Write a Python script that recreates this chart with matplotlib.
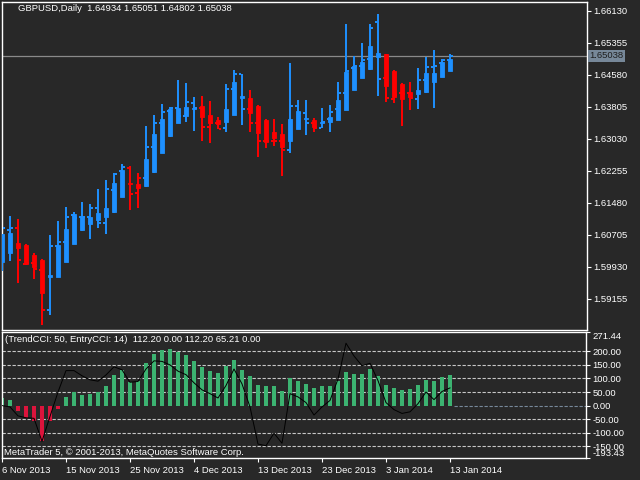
import numpy as np
import matplotlib
matplotlib.use('Agg')
import matplotlib.pyplot as plt

# GBPUSD daily, 57 bars (index 0 = 6 Nov 2013, last = 13 Jan 2014)
open_ = [1.60213, 1.60819, 1.60874, 1.59995, 1.60027, 1.59862, 1.58881, 1.60438, 1.60535, 1.61182,
         1.61126, 1.61126, 1.61359, 1.60981, 1.61787, 1.62255, 1.62332, 1.61707, 1.62085, 1.62836,
         1.63403, 1.63708, 1.63781, 1.63580, 1.63902, 1.63766, 1.63320, 1.63422, 1.63282, 1.64234,
         1.64590, 1.63756, 1.63403, 1.62981, 1.62981, 1.62981, 1.62756, 1.63829, 1.63660, 1.63403,
         1.63296, 1.63500, 1.63742, 1.64144, 1.64749, 1.64798, 1.64953, 1.65863, 1.64507, 1.63984,
         1.64129, 1.64144, 1.63991, 1.64452, 1.64774, 1.64856, 1.64934]
close_ = [1.60860, 1.60874, 1.60092, 1.60027, 1.59867, 1.58881, 1.60438, 1.60535, 1.61141, 1.61102,
          1.61126, 1.61359, 1.60981, 1.61804, 1.62168, 1.62337, 1.61691, 1.62085, 1.62836, 1.63403,
          1.63684, 1.63781, 1.63580, 1.63911, 1.63766, 1.63320, 1.63417, 1.63277, 1.64234, 1.64590,
          1.63756, 1.63403, 1.62981, 1.62981, 1.62981, 1.62756, 1.63829, 1.63660, 1.63417, 1.63296,
          1.63427, 1.63684, 1.64144, 1.64677, 1.64798, 1.64936, 1.65718, 1.64476, 1.64023, 1.64088,
          1.64112, 1.64008, 1.64452, 1.64774, 1.64798, 1.64936, 1.65038]
wick_hi = [1.60722, 1.61158, 1.61085, 1.60480, 1.60262, 1.60109, 1.60698, 1.61037, 1.61383, 1.61262,
           1.61504, 1.61448, 1.61812, 1.62030, 1.62206, 1.62417, 1.62369, 1.62199, 1.63337, 1.63604,
           1.63870, 1.63805, 1.64452, 1.64386, 1.64052, 1.64064, 1.63943, 1.63548, 1.64355, 1.64694,
           1.64590, 1.64209, 1.63839, 1.63507, 1.63507, 1.63386, 1.64871, 1.63967, 1.63967, 1.63538,
           1.63781, 1.63846, 1.64410, 1.65808, 1.65033, 1.65355, 1.65808, 1.66050, 1.65081, 1.64694,
           1.64372, 1.64410, 1.64735, 1.65001, 1.65178, 1.64953, 1.65081]
wick_lo = [1.59826, 1.60068, 1.59542, 1.59971, 1.59644, 1.58518, 1.58760, 1.59680, 1.60051, 1.60472,
           1.60802, 1.60593, 1.60860, 1.60715, 1.61238, 1.61611, 1.61315, 1.61359, 1.61867, 1.62206,
           1.62676, 1.63078, 1.63403, 1.63442, 1.63224, 1.62981, 1.62918, 1.63257, 1.63199, 1.63604,
           1.63362, 1.63199, 1.62594, 1.62812, 1.62860, 1.62134, 1.62691, 1.63257, 1.63119, 1.63199,
           1.63282, 1.63199, 1.63483, 1.63725, 1.64209, 1.64493, 1.64694, 1.64071, 1.63926, 1.63902,
           1.63337, 1.63725, 1.63749, 1.64144, 1.63781, 1.64517, 1.64677]
body_hi = [1.60722, 1.60739, 1.60497, 1.60455, 1.60213, 1.60092, 1.59717, 1.60455, 1.60836, 1.61206,
           1.61133, 1.61126, 1.61238, 1.61344, 1.61964, 1.62272, 1.61964, 1.61933, 1.62538, 1.63144,
           1.63500, 1.63742, 1.63781, 1.63805, 1.63785, 1.63822, 1.63604, 1.63488, 1.63742, 1.64410,
           1.64064, 1.64023, 1.63822, 1.63483, 1.63199, 1.63144, 1.63514, 1.63701, 1.63543, 1.63483,
           1.63446, 1.63548, 1.63967, 1.64653, 1.64803, 1.64895, 1.65275, 1.65098, 1.65081, 1.64677,
           1.64355, 1.64168, 1.64209, 1.64628, 1.64628, 1.64895, 1.64953]
body_lo = [1.60044, 1.60269, 1.60390, 1.59988, 1.59930, 1.59300, 1.59680, 1.59688, 1.60051, 1.60472,
           1.60807, 1.60964, 1.61061, 1.61141, 1.61255, 1.61611, 1.61925, 1.61843, 1.61884, 1.62223,
           1.62691, 1.63095, 1.63417, 1.63580, 1.63749, 1.63548, 1.63403, 1.63398, 1.63442, 1.63604,
           1.64028, 1.63645, 1.63161, 1.62943, 1.63054, 1.62821, 1.62981, 1.63257, 1.63507, 1.63320,
           1.63410, 1.63442, 1.63483, 1.63725, 1.64209, 1.64493, 1.64711, 1.65016, 1.64313, 1.64047,
           1.63991, 1.64047, 1.64112, 1.64154, 1.64410, 1.64517, 1.64677]
trend = ['up', 'up', 'dn', 'dn', 'dn', 'dn', 'up', 'up', 'up', 'up',
         'up', 'up', 'up', 'up', 'up', 'up', 'dn', 'dn', 'up', 'up',
         'up', 'up', 'up', 'up', 'up', 'dn', 'dn', 'dn', 'up', 'up',
         'up', 'dn', 'dn', 'dn', 'dn', 'dn', 'up', 'up', 'up', 'dn',
         'up', 'up', 'up', 'up', 'up', 'up', 'up', 'up', 'dn', 'dn',
         'dn', 'dn', 'up', 'up', 'up', 'up', 'up']

# TrendCCI(50) histogram and EntryCCI(14) line
trend_cci = [29, 19, -21, -45, -57, -132, -57, -13, 33, 50, 40, 41, 50, 74, 114, 131, 86, 90, 156, 190,
             204, 208, 198, 188, 163, 141, 126, 120, 147, 168, 131, 110, 77, 72, 72, 52, 101, 90, 80, 66,
             72, 72, 90, 125, 117, 117, 135, 108, 77, 66, 58, 62, 77, 95, 89, 105, 112.20]
entry_cci = [0, -5, -38, -45, -47, -132, -40, 50, 129, 129, 110, 95, 90, 113, 143, 132, 86, 89, 135, 165,
             163, 150, 127, 114, 84, 58, 44, 28, 74, 135, 80, -5, -142, -148, -102, -139, 44, 32, 11, -35,
             -5, 19, 98, 230, 183, 147, 156, 92, 11, -15, -29, -23, 7, 50, 22, 52, 65.21]

date_pos = [0, 8, 16, 24, 32, 40, 48, 56]
date_labels = ['6 Nov 2013', '15 Nov 2013', '25 Nov 2013', '4 Dec 2013',
               '13 Dec 2013', '23 Dec 2013', '3 Jan 2014', '13 Jan 2014']
price_ticks = [1.66130, 1.65355, 1.64580, 1.63805, 1.63030, 1.62255, 1.61480, 1.60705, 1.59930, 1.59155]
cci_ticks = [271.44, 200, 150, 100, 50, 0, -50, -100, -150, -193.43]
last_price = 1.65038

bg = '#282828'
fg = 'white'
plt.rcParams['font.family'] = ['Liberation Sans', 'DejaVu Sans']
fs = 6.8

fig = plt.figure(figsize=(6.4, 4.8), dpi=100, facecolor=bg)
ax = fig.add_axes([2 / 640, 1 - 330 / 480, 585 / 640, 328 / 480], facecolor=bg)
ax2 = fig.add_axes([2 / 640, 1 - 458 / 480, 584 / 640, 126 / 480], facecolor=bg)

x = np.arange(len(close_))
cols = np.where(np.array(trend) == 'up', '#1E90FF', '#FF0000')

# candles
ax.vlines(x, wick_lo, wick_hi, colors=cols, lw=1.4, zorder=3)
ax.bar(x, np.array(body_hi) - np.array(body_lo), bottom=body_lo, width=0.5,
       color=cols, edgecolor=cols, lw=0.6, zorder=3)
ax.hlines(open_, x - 0.4, x - 0.1, colors=cols, lw=1.4, zorder=3)
ax.hlines(close_, x + 0.1, x + 0.4, colors=cols, lw=1.4, zorder=3)
ax.axhline(last_price, color='#8a8a8a', lw=0.9, zorder=2)

ax.set_xlim(0, 73.125)
ax.set_ylim(1.58397, 1.66341)
ax.set_xticks([])
ax.yaxis.tick_right()
ax.set_yticks(price_ticks)
ax.set_yticklabels(['%.5f' % v for v in price_ticks])
ax.tick_params(axis='y', colors=fg, labelsize=fs, direction='out', length=3, width=0.8, pad=1.5)
for s in ax.spines.values():
    s.set_color(fg)
    s.set_linewidth(1.0)
ax.text(1.004, last_price, '%.5f' % last_price, transform=ax.get_yaxis_transform(),
        ha='left', va='center', fontsize=fs, color='#1e1e1e',
        bbox=dict(boxstyle='square,pad=0.18', fc='#778899', ec='none'))

fig.text(18 / 640, 1 - 4 / 480, 'GBPUSD,Daily  1.64934 1.65051 1.64802 1.65038',
         color=fg, fontsize=fs, va='top', ha='left')

# indicator
hcols = ['#3CB371' if v >= 0 else '#DC143C' for v in trend_cci]
for lev in [200, 150, 100, 50, -50, -100, -150]:
    ax2.axhline(lev, color='#c8c8c8', lw=0.8, ls=(0, (3, 1.5)), zorder=1)
ax2.hlines(0, len(x) - 0.5, 73.0, color='#778899', lw=0.8, ls=(0, (3, 1.5)), zorder=1)
ax2.bar(x, trend_cci, width=0.5, color=hcols, zorder=2)
ax2.plot(x, entry_cci, color='black', lw=0.7, zorder=3)

ax2.set_xlim(0, 73.0)
ax2.set_ylim(-193.43, 271.44)
ax2.yaxis.tick_right()
ax2.set_yticks(cci_ticks)
ax2.set_yticklabels(['%.2f' % v for v in cci_ticks])
ax2.tick_params(axis='y', colors=fg, labelsize=fs, direction='out', length=3, width=0.8, pad=1.5)
ylabs = ax2.get_yticklabels()
ylabs[0].set_va('top')
ylabs[-1].set_va('bottom')
ax2.set_xticks(date_pos)
ax2.set_xticklabels(date_labels, ha='left')
ax2.tick_params(axis='x', colors=fg, labelsize=fs, direction='out', length=3, width=0.8, pad=2.5)
for s in ax2.spines.values():
    s.set_color(fg)
    s.set_linewidth(1.0)

fig.text(5 / 640, 1 - 335 / 480, '(TrendCCI: 50, EntryCCI: 14)  112.20 0.00 112.20 65.21 0.00',
         color=fg, fontsize=fs, va='top', ha='left')
fig.text(4 / 640, 1 - 455 / 480, 'MetaTrader 5, \u00a9 2001-2013, MetaQuotes Software Corp.',
         color=fg, fontsize=fs, va='baseline', ha='left')

fig.savefig('out.png', dpi=100, facecolor=bg)
